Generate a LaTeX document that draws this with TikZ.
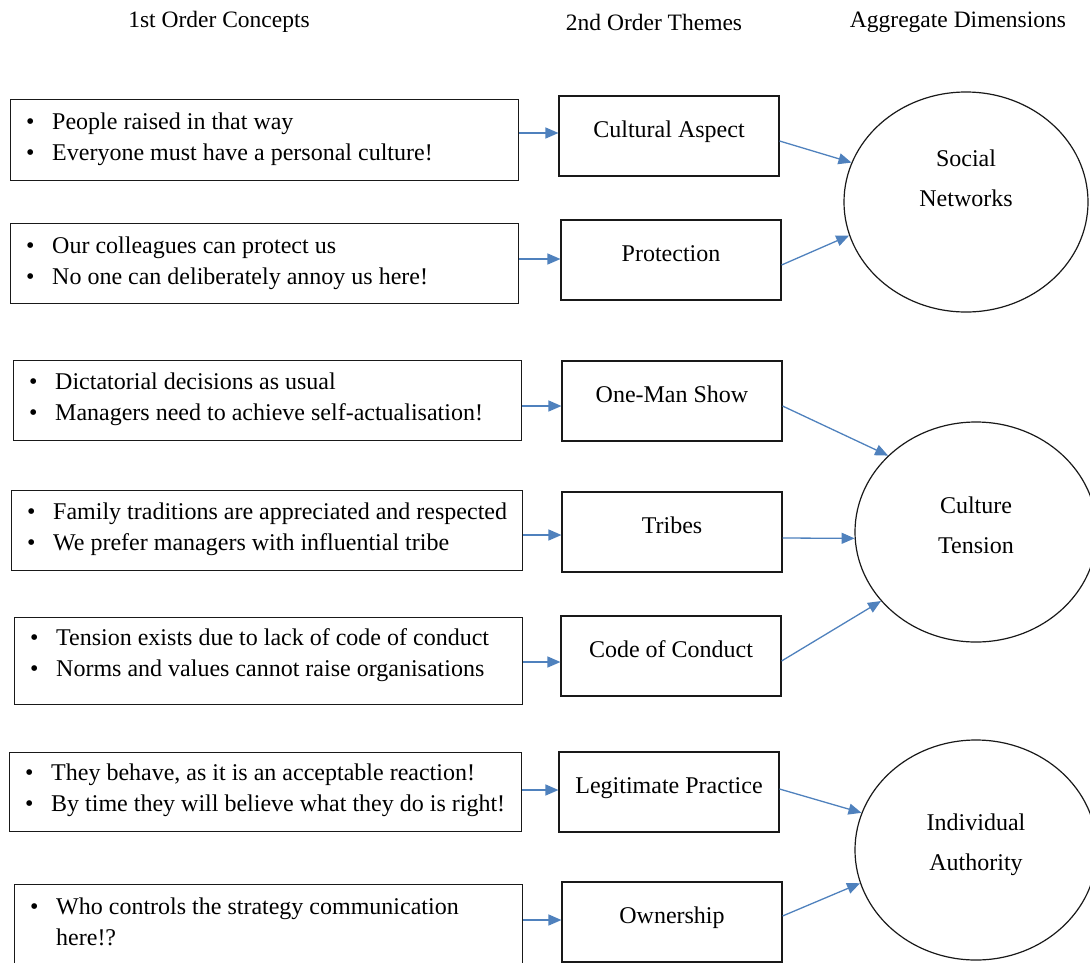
\documentclass[tikz,border=0pt]{standalone}
\usepackage{fontspec}
\setmainfont{Liberation Serif}
\usetikzlibrary{arrows.meta,calc,shapes.geometric}
\tikzset{
  base/.style={font=\fontsize{24}{31}\selectfont},
  hdr/.style={font=\fontsize{23.5}{31}\selectfont, inner sep=0},
  lbox/.style={draw=black!90, line width=1.1pt, inner sep=0, rectangle},
  ltext/.style={base, inner sep=0, anchor=base west},
  mbox/.style={draw=black!90, line width=1.1pt, inner sep=0, rectangle, base, text height=14pt, text depth=12pt},
  dim/.style={draw=black!90, line width=1.2pt, ellipse, inner sep=0},
  dimtext/.style={font=\fontsize{24}{40}\selectfont, align=center, inner sep=0},
  arr/.style={draw={rgb,255:red,79;green,129;blue,189}, line width=1.3pt, -{Triangle[length=13pt,width=11pt]}},
}
\newcommand{\bl}{\makebox[26pt][l]{\textbullet}}
\begin{document}
\begin{tikzpicture}[x=1pt,y=-1pt]
\useasboundingbox (0,0) rectangle (1090,962);
% headers
\node[hdr] (h1) at (219,22) {1st Order Concepts};
\node[hdr] (h2) at (654,22) {2nd Order Themes};
\node[hdr] (h3) at (958,22) {Aggregate Dimensions};
% left boxes
\node[lbox, minimum width=508, minimum height=81, anchor=north west] (l1) at (10,99) {};
\node[lbox, minimum width=508, minimum height=80, anchor=north west] (l2) at (10,223) {};
\node[lbox, minimum width=508, minimum height=80, anchor=north west] (l3) at (13,360) {};
\node[lbox, minimum width=511, minimum height=80, anchor=north west] (l4) at (11,490) {};
\node[lbox, minimum width=508, minimum height=87, anchor=north west] (l5) at (14,617) {};
\node[lbox, minimum width=512, minimum height=79, anchor=north west] (l6) at (9,752) {};
\node[lbox, minimum width=508, minimum height=95, anchor=north west] (l7) at (14,884) {};
% left texts
\node[ltext] (t1) at ($(l1.north west)+(16,30)$) {\begin{tabular}[t]{@{}l@{}}\bl People raised in that way\\ \bl Everyone must have a personal culture!\end{tabular}};
\node[ltext] (t2) at ($(l2.north west)+(16,30)$) {\begin{tabular}[t]{@{}l@{}}\bl Our colleagues can protect us\\ \bl No one can deliberately annoy us here!\end{tabular}};
\node[ltext] (t3) at ($(l3.north west)+(16,29)$) {\begin{tabular}[t]{@{}l@{}}\bl Dictatorial decisions as usual\\ \bl Managers need to achieve self-actualisation!\end{tabular}};
\node[ltext] (t4) at ($(l4.north west)+(16,29)$) {\begin{tabular}[t]{@{}l@{}}\bl Family traditions are appreciated and respected\\ \bl We prefer managers with influential tribe\end{tabular}};
\node[ltext] (t5) at ($(l5.north west)+(16,28)$) {\begin{tabular}[t]{@{}l@{}}\bl Tension exists due to lack of code of conduct\\ \bl Norms and values cannot raise organisations\end{tabular}};
\node[ltext] (t6) at ($(l6.north west)+(16,28)$) {\begin{tabular}[t]{@{}l@{}}\bl They behave, as it is an acceptable reaction!\\ \bl By time they will believe what they do is right!\end{tabular}};
\node[ltext] (t7) at ($(l7.north west)+(16,30)$) {\begin{tabular}[t]{@{}l@{}}\bl Who controls the strategy communication\\ \makebox[26pt]{}here!?\end{tabular}};
% middle boxes
\node[mbox, minimum width=220, minimum height=80] (m1) at (669,136) {Cultural Aspect};
\node[mbox, minimum width=220, minimum height=80] (m2) at (671,260) {Protection};
\node[mbox, minimum width=220, minimum height=80] (m3) at (672,401) {One-Man Show};
\node[mbox, minimum width=220, minimum height=80] (m4) at (672,532) {Tribes};
\node[mbox, minimum width=220, minimum height=80] (m5) at (671,656) {Code of Conduct};
\node[mbox, minimum width=220, minimum height=80] (m6) at (669,792) {Legitimate Practice};
\node[mbox, minimum width=220, minimum height=80] (m7) at (672,922) {Ownership};
% dimensions
\node[dim, minimum width=244, minimum height=220] (c1) at (966,202) {};
\node[dim, minimum width=242, minimum height=220] (c2) at (976,532) {};
\node[dim, minimum width=242, minimum height=220] (c3) at (976,850) {};
\node[dimtext] (d1) at (966,178) {Social\\Networks};
\node[dimtext] (d2) at (976,525) {Culture\\Tension};
\node[dimtext] (d3) at (976,845) {Individual\\Authority};
% arrow heights
\coordinate (a1) at (0,133);
\coordinate (a2) at (0,259);
\coordinate (a3) at (0,406);
\coordinate (a4) at (0,535);
\coordinate (a5) at (0,662);
\coordinate (a6) at (0,790);
\coordinate (a7) at (0,920);
\coordinate (b1) at (0,141);
\coordinate (b2) at (0,265);
\coordinate (b3) at (0,406);
\coordinate (b4) at (0,538);
\coordinate (b5) at (0,661);
\coordinate (b6) at (0,789);
\coordinate (b7) at (0,916);
% left to middle
\draw[arr] (l1.east |- a1) -- (m1.west |- a1);
\draw[arr] (l2.east |- a2) -- (m2.west |- a2);
\draw[arr] (l3.east |- a3) -- (m3.west |- a3);
\draw[arr] (l4.east |- a4) -- (m4.west |- a4);
\draw[arr] (l5.east |- a5) -- (m5.west |- a5);
\draw[arr] (l6.east |- a6) -- (m6.west |- a6);
\draw[arr] (l7.east |- a7) -- (m7.west |- a7);
% middle to dimensions
\draw[arr] (m1.east |- b1) -- (c1.161);
\draw[arr] (m2.east |- b2) -- (c1.196);
\draw[arr] (m3.east |- b3) -- (c2.139);
\draw[arr] (m4.east |- b4) -- (c2.183);
\draw[arr] (m5.east |- b5) -- (c2.216);
\draw[arr] (m6.east |- b6) -- (c3.162);
\draw[arr] (m7.east |- b7) -- (c3.196);
\end{tikzpicture}
\end{document}
